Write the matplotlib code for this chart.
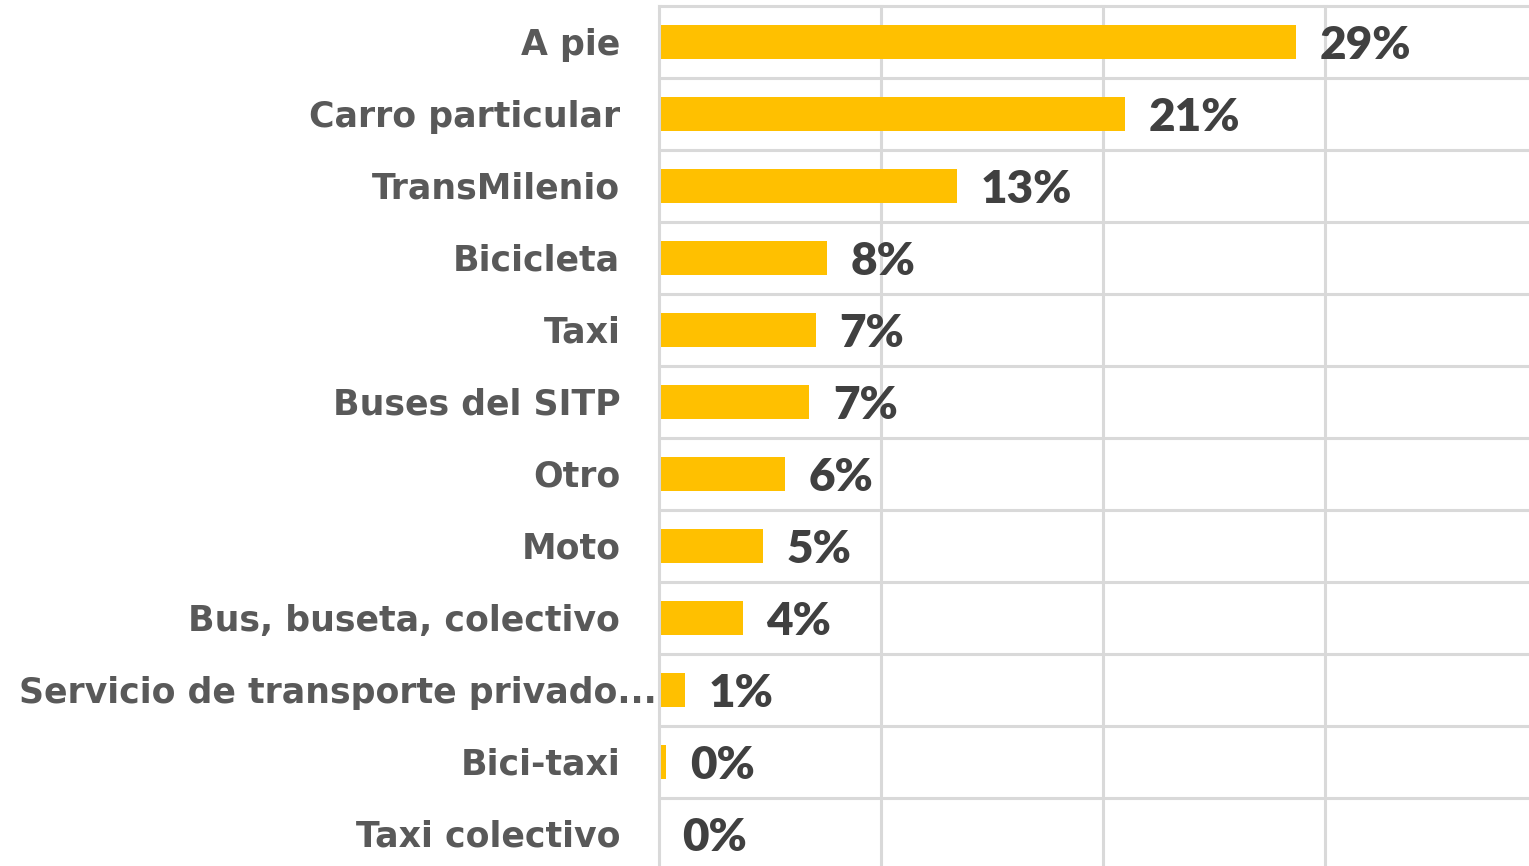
import matplotlib.pyplot as plt

# ---------------- datos ----------------
categorias = [
    "A pie",
    "Carro particular",
    "TransMilenio",
    "Bicicleta",
    "Taxi",
    "Buses del SITP",
    "Otro",
    "Moto",
    "Bus, buseta, colectivo",
    "Servicio de transporte privado...",
    "Bici-taxi",
    "Taxi colectivo",
]
porcentajes = [28.7, 21.0, 13.45, 7.6, 7.1, 6.8, 5.7, 4.7, 3.8, 1.2, 0.35, 0.0]
etiquetas_truncadas = ["Servicio de transporte privado..."]
ticks_x = [0, 10, 20, 30, 40]

# ---------------- estilo ----------------
AMARILLO = "#FFC000"
GRIS_GRID = "#D9D9D9"
GRIS_TXT = "#595959"
GRIS_VAL = "#404040"
FUENTE_VAL = ["Lato", "DejaVu Sans"]
FUENTE_CAT = ["DejaVu Sans"]

W, H, DPI = 1529, 866, 100
fig = plt.figure(figsize=(W / DPI, H / DPI), dpi=DPI)
fig.patch.set_facecolor("white")

# eje: x=0 en 658.5 px, 22.2 px por punto porcentual, filas de 72 px desde y=6
izq = 658.5 / W
ancho = 40 * 22.2 / W
arriba = 1 - 6 / H
alto = 12 * 72 / H
ax = fig.add_axes([izq, arriba - alto, ancho, alto])

n = len(categorias)
y = list(range(n))
ax.set_xlim(ticks_x[0], ticks_x[-1])
ax.set_ylim(n - 0.5, -0.5)

for s in ax.spines.values():
    s.set_visible(False)
ax.set_xticks([])
ax.set_yticks([])

# rejilla
for xv in ticks_x:
    ax.axvline(xv, color=GRIS_GRID, lw=2.2, zorder=1 if xv else 3, clip_on=False)
for i in range(n + 1):
    ax.axhline(i - 0.5, color=GRIS_GRID, lw=2.2, zorder=1, clip_on=False)

ax.barh(y, porcentajes, height=0.47, color=AMARILLO, zorder=2)

# etiquetas de valor
for yi, v in zip(y, porcentajes):
    ax.annotate(f"{v:.0f}%", xy=(v, yi), xytext=(17.0, -2.5), textcoords="offset points",
                ha="left", va="center", fontsize=33, fontweight="heavy",
                color=GRIS_VAL, family=FUENTE_VAL, annotation_clip=False)

# etiquetas de categoria
for yi, cat in zip(y, categorias):
    desp = -1.5 if cat in etiquetas_truncadas else -27.5
    ax.annotate(cat, xy=(0, yi), xytext=(desp, -2), textcoords="offset points",
                ha="right", va="center", fontsize=25, fontweight="bold",
                color=GRIS_TXT, family=FUENTE_CAT, annotation_clip=False)

fig.savefig("out.png", dpi=DPI, facecolor="white")
